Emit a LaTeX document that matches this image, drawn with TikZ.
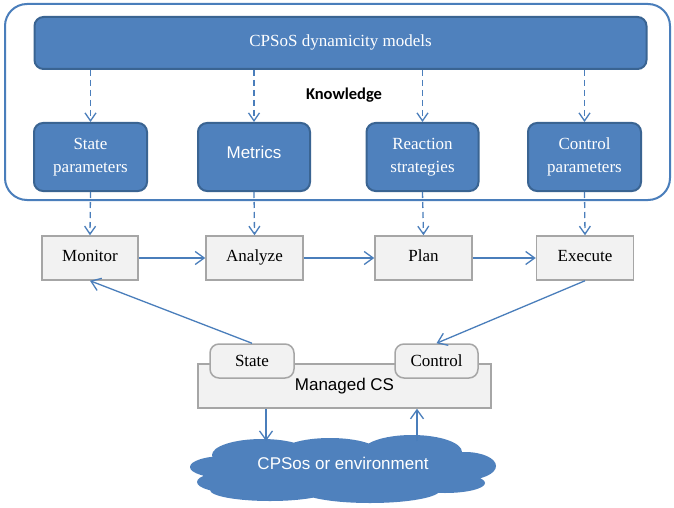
\documentclass[tikz,border=0pt]{standalone}
\usepackage{fontspec}
\setmainfont{Liberation Serif}
\setsansfont{Liberation Sans}
\newfontfamily\knowfont{Carlito}
\usetikzlibrary{arrows.meta}
\definecolor{bluefill}{HTML}{4F81BD}
\definecolor{blueedge}{HTML}{3A6492}
\definecolor{arrowblue}{HTML}{4A7EBB}
\definecolor{grayfill}{HTML}{F2F2F2}
\definecolor{grayedge}{HTML}{A6A6A6}
\begin{document}
\begin{tikzpicture}[x=1pt,y=-1pt,
 bluebox/.style={draw=blueedge, fill=bluefill, line width=2pt, rounded corners=9pt, text=white, inner sep=0pt, font=\fontsize{17}{23}\selectfont, align=center},
 graybox/.style={draw=grayedge, fill=grayfill, line width=1.5pt, inner sep=0pt, font=\fontsize{17}{20}\selectfont},
 flow/.style={draw=arrowblue, line width=1.3pt, -{Straight Barb[length=9pt,width=13pt]}},
 dflow/.style={draw=arrowblue, line width=1.3pt, dash pattern=on 6pt off 4pt, -{Straight Barb[length=8pt,width=11pt]}}
]
\useasboundingbox (0,0) rectangle (674,508);
\fill[white] (0,0) rectangle (674,508);
% Knowledge frame
\node[draw=arrowblue, line width=2pt, rounded corners=22pt, minimum width=665pt, minimum height=196pt, inner sep=0pt] (frame) at (337.5,102) {};
\node[font=\knowfont\bfseries\fontsize{16.5}{19}\selectfont] (know) at (344,95) {Knowledge};
% top bar
\node[bluebox, minimum width=612pt, minimum height=52pt] (bar) at (340.5,43) {\raisebox{5pt}{CPSoS dynamicity models}};
% knowledge boxes
\node[bluebox, minimum width=113pt, minimum height=68pt] (sp) at (90.5,157) {State\\parameters};
\node[bluebox, minimum width=112pt, minimum height=68pt, font=\sffamily\fontsize{17}{20}\selectfont] (me) at (254,157) {\raisebox{9pt}{Metrics}};
\node[bluebox, minimum width=112pt, minimum height=68pt] (rs) at (422.5,157) {Reaction\\strategies};
\node[bluebox, minimum width=113pt, minimum height=68pt] (cp) at (584.5,157) {Control\\parameters};
% MAPE boxes
\node[graybox, minimum width=96pt, minimum height=44pt] (mon) at (90,258) {\raisebox{5pt}{Monitor}};
\node[graybox, minimum width=97pt, minimum height=44pt] (ana) at (254.5,258) {\raisebox{5pt}{Analyze}};
\node[graybox, minimum width=97pt, minimum height=44pt] (pla) at (423.5,258) {\raisebox{5pt}{Plan}};
\node[graybox, minimum width=97pt, minimum height=44pt] (exe) at (585,258) {\raisebox{5pt}{Execute}};
% managed system
\node[graybox, minimum width=293pt, minimum height=44pt, font=\sffamily\fontsize{17}{20}\selectfont] (man) at (344.5,386) {\raisebox{4pt}{Managed CS}};
\node[graybox, rounded corners=9pt, minimum width=84pt, minimum height=34pt] (st) at (252,361) {State};
\node[graybox, rounded corners=9pt, minimum width=83pt, minimum height=34pt] (co) at (436.5,361) {Control};
% cloud
\fill[bluefill]
  (343,470) ellipse [x radius=140, y radius=24]
  (262,455) ellipse [x radius=50, y radius=16]
  (330,453) ellipse [x radius=50, y radius=15]
  (412,452) ellipse [x radius=50, y radius=17]
  (465,466) ellipse [x radius=31, y radius=14]
  (225,467) ellipse [x radius=35, y radius=11]
  (235,482) ellipse [x radius=38, y radius=11]
  (270,490) ellipse [x radius=60, y radius=11]
  (370,490) ellipse [x radius=70, y radius=13]
  (445,483) ellipse [x radius=40, y radius=10];
\node[text=white, inner sep=0pt, font=\sffamily\fontsize{17}{20}\selectfont] (env) at (343,463) {CPSos or environment};
% dashed arrows
\foreach \b in {sp,me,rs,cp} \draw[dflow] (bar.south -| \b.north) -- (\b.north);
\draw[dflow] (sp.south) -- (mon.north);
\draw[dflow] (me.south) -- (ana.north);
\draw[dflow] (rs.south) -- (pla.north);
\draw[dflow] (cp.south) -- (exe.north);
% flow arrows
\draw[flow] (mon.east) -- (ana.west);
\draw[flow] (ana.east) -- (pla.west);
\draw[flow] (pla.east) -- (exe.west);
\draw[flow] (st.north) -- (mon.south);
\draw[flow] (exe.south) -- (co.north);
\coordinate (d1) at (266,441);
\coordinate (u1) at (417,441);
\draw[flow] (man.south -| d1) -- (d1);
\draw[flow] (u1) -- (man.south -| u1);
\end{tikzpicture}
\end{document}
